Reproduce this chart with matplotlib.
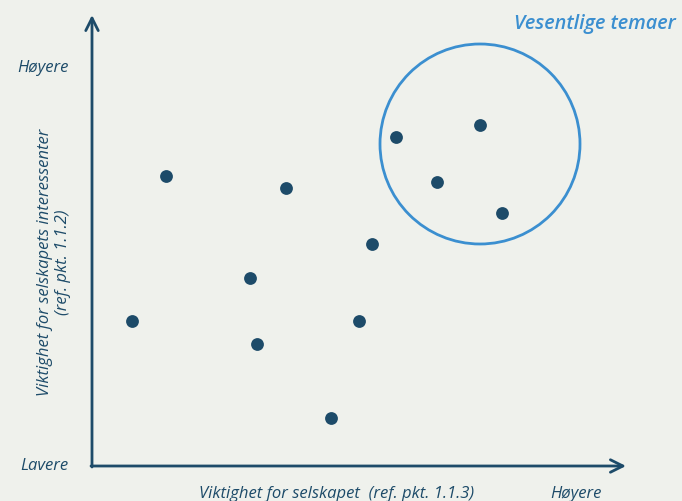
import matplotlib.pyplot as plt
from matplotlib.patches import Circle

# positions of topics (x: importance for company, y: importance for stakeholders)
topic_x = [74, 194, 158, 40, 165, 280, 267, 239, 304, 388, 345, 410]
topic_y = [290, 278, 188, 145, 122, 222, 145, 48, 329, 341, 284, 253]

# circle marking the material topics
circle_center = (388, 322)
circle_radius = 100

bg = '#eff1ec'
dark = '#1d4b69'
blue = '#3b8fd0'

plt.rcParams['font.family'] = ['Open Sans', 'DejaVu Sans']

fig = plt.figure(figsize=(6.82, 5.02), dpi=100, facecolor=bg)
ax = fig.add_axes([0, 0, 1, 1])
ax.set_facecolor(bg)
ax.set_xlim(-92, 590)
ax.set_ylim(-35, 467)
ax.axis('off')

# axes with arrows
arrow = dict(arrowstyle='->,head_length=0.9,head_width=0.45', color=dark, lw=2,
             shrinkA=0, shrinkB=0)
ax.annotate('', xy=(0, 451), xytext=(0, -1), arrowprops=arrow)
ax.annotate('', xy=(534, 0), xytext=(-1, 0), arrowprops=arrow)

ax.scatter(topic_x, topic_y, s=85, color=dark, zorder=3, linewidths=0)

ax.add_patch(Circle(circle_center, circle_radius, fill=False, edgecolor=blue, lw=2))

ax.text(584, 443, 'Vesentlige temaer', color=blue, fontsize=14.3, style='italic',
        ha='right', va='center', fontweight='semibold')

fs = 12
ax.text(-49, 399, 'Høyere', color=dark, fontsize=fs, style='italic', ha='center', va='center')
ax.text(-48, 1, 'Lavere', color=dark, fontsize=fs, style='italic', ha='center', va='center')
ax.text(484, -27, 'Høyere', color=dark, fontsize=fs, style='italic', ha='center', va='center')
ax.text(245, -27, 'Viktighet for selskapet  (ref. pkt. 1.1.3)', color=dark, fontsize=fs,
        style='italic', ha='center', va='center')
ax.text(-38, 205, 'Viktighet for selskapets interessenter\n(ref. pkt. 1.1.2)', color=dark,
        fontsize=fs, style='italic', ha='center', va='center', rotation=90,
        multialignment='center', linespacing=1.2)

fig.savefig('out.png', dpi=100, facecolor=bg)
